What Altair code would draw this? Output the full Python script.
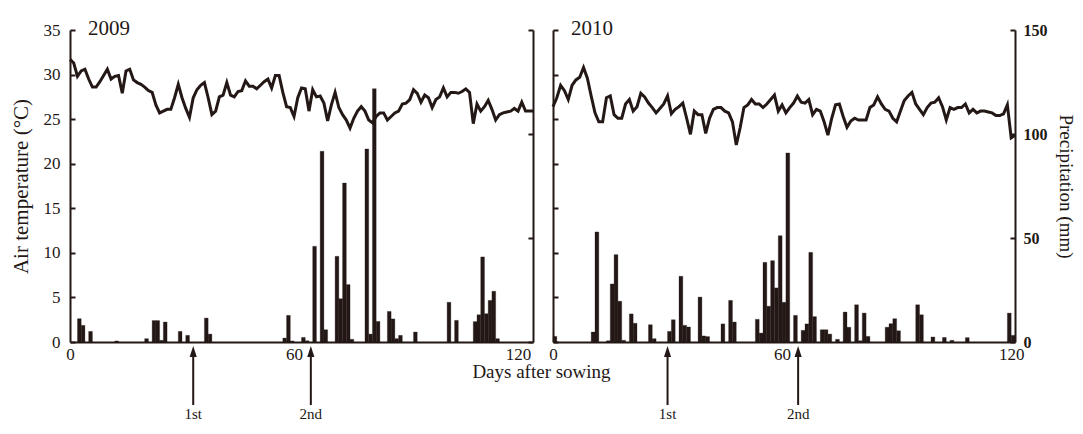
import altair as alt
import pandas as pd

# ---------------- data ----------------
temp_2009 = [
    31.7, 31.3, 29.8, 30.4, 30.6, 29.5, 28.6, 28.6, 29.2, 29.9,
    30.6, 29.5, 29.8, 29.9, 27.9, 30.4, 30.6, 29.4, 29.1, 28.9,
    28.6, 28.2, 28.0, 26.6, 25.7, 25.9, 26.1, 26.1, 27.4, 28.9,
    27.4, 26.2, 25.2, 27.4, 28.3, 28.8, 29.1, 27.4, 25.5, 25.9,
    27.5, 27.7, 29.1, 27.7, 27.5, 28.1, 28.2, 29.3, 28.7, 28.7,
    28.4, 28.8, 29.2, 29.5, 28.5, 29.9, 29.9, 28.0, 26.4, 26.3,
    25.3, 27.4,
    28.5, 28.4, 25.9, 28.3, 27.5, 27.6, 26.8, 24.8, 26.6, 28.0,
    26.3, 25.5, 24.9, 24.0, 25.1, 25.9, 26.4, 25.9, 24.9, 24.6,
    25.3, 25.7, 25.7, 24.9, 25.3, 25.7, 25.9, 26.7, 26.8, 27.2,
    28.3, 27.9, 26.9, 27.7, 27.4, 26.3, 27.2, 27.5, 28.5, 27.5,
    28.0, 28.0, 27.9, 28.1, 28.4, 28.0,
    24.5, 26.7, 25.9, 26.4, 27.1, 26.1, 24.9, 25.5, 25.7, 25.8,
    25.9, 26.2, 25.9, 26.9, 25.9, 25.9, 25.9,
]
temp_2010 = [
    26.4, 27.4, 28.8, 28.2, 27.2, 28.8, 29.4, 29.7, 30.8, 29.6,
    27.6, 25.7, 24.7, 24.7, 27.4, 27.6, 25.5, 25.1, 25.1, 26.7,
    27.2, 25.9, 26.4, 27.9, 27.5, 26.8, 26.3, 25.7, 26.2, 26.7,
    27.6, 25.6, 26.1, 26.4, 26.8, 25.1, 23.3, 25.9, 25.5, 25.5,
    23.4, 25.1, 26.1, 26.3, 26.3, 25.9, 25.7, 24.7, 22.1, 24.0,
    26.3, 26.6, 27.2, 26.7, 26.7, 26.3, 26.7, 27.2, 27.7, 25.9,
    26.6, 25.7, 26.3, 26.8, 27.6, 26.9, 26.8, 27.2, 25.5, 26.1,
    25.9, 24.7, 23.2, 25.1, 26.6,
    26.7, 25.3, 24.1, 24.8, 25.1, 24.9, 24.9, 24.9, 26.3, 26.6,
    27.5, 26.7, 26.1, 25.9, 25.1, 24.7, 25.9, 27.1, 27.6, 28.0,
    26.7, 26.1, 25.5, 26.3, 26.8, 26.9, 27.4, 26.4, 24.9, 26.3,
    26.1, 26.3, 26.3, 26.7, 25.7, 26.1, 25.7, 25.9, 25.9, 25.8,
    25.7, 25.4, 25.4, 25.6, 26.6, 22.9, 23.2,
]
rain_2009_day = [2, 3, 5, 12, 20, 22, 23, 24, 25, 29, 31, 36, 37, 57, 58, 59, 62, 63, 65, 67,
                 68, 71, 72, 73, 74, 75, 79, 80, 81, 82, 85, 86, 87, 88, 92, 101, 103, 108, 109, 110,
                 111, 112, 113, 114]
rain_2009_mm = [11.2, 8.0, 5.1, 0.5, 1.6, 10.3, 10.3, 0.8, 9.6, 5.1, 3.2, 11.5, 3.8, 1.9, 12.8, 0.5, 2.2, 0.6, 46.0, 91.7,
                5.9, 41.2, 20.8, 76.4, 27.6, 1.3, 92.8, 3.8, 121.8, 9.9, 14.7, 11.1, 1.6, 3.2, 4.8, 19.1, 10.4, 9.8, 13.1, 40.9,
                13.6, 20.0, 24.4, 1.6]
rain_2010_day = [0, 10, 11, 14, 15, 16, 17, 18, 20, 21, 25, 26, 30, 31, 33, 34, 35, 38, 39, 40,
                 44, 46, 47, 53, 54, 55, 56, 57, 58, 59, 60, 61, 63, 65, 66, 67, 68, 70, 71, 72,
                 74, 76, 77, 79, 80, 81, 82, 87, 88, 89, 90, 95, 96, 99, 102, 104, 108, 119, 120]
rain_2010_mm = [2.7, 4.8, 52.9, 0.6, 27.9, 42.0, 19.6, 0.8, 13.5, 9.0, 8.3, 1.6, 5.1, 10.7, 31.6, 8.0, 7.2, 21.6, 2.9, 2.6,
                8.7, 20.0, 9.6, 10.9, 4.3, 38.3, 17.2, 39.1, 26.0, 51.1, 19.1, 90.9, 12.8, 5.6, 8.7, 43.1, 12.2, 5.9, 5.9, 3.8,
                1.3, 14.4, 7.1, 17.9, 0.6, 13.9, 2.7, 7.1, 8.8, 11.2, 5.4, 17.9, 13.1, 2.4, 2.2, 0.8, 2.1, 13.9, 3.2]
sowing_2009 = [33, 64.5]
sowing_2010 = [30, 64.2]
arrow_labels = ["1st", "2nd"]
x_ticks = [0, 60, 120]
temp_ticks = [0, 5, 10, 15, 20, 25, 30, 35]
rain_ticks = [0, 50, 100, 150]

# ---------------- styling ----------------
INK = "#231815"
FONT = "Liberation Serif"
H = 312


def make_panel(year, temps, rday, rmm, sow, xmax, width, first):
    tdf = pd.DataFrame({"day": list(range(len(temps))), "temp": temps})
    rdf = pd.DataFrame({"day": rday, "day_end": [d + 1 for d in rday], "mm": rmm,
                        "base": [0] * len(rday)})
    adf = pd.DataFrame({"day": sow, "label": arrow_labels})
    ydf = pd.DataFrame({"year": [year]})

    xs = alt.Scale(domain=[0, xmax], nice=False, zero=False)
    xkw = dict(values=x_ticks, ticks=False, grid=False, domainColor=INK, domainWidth=2,
               labelFont=FONT, labelFontSize=17, labelColor=INK, labelPadding=4, labelFlush=False)
    if first:
        xa = alt.Axis(title="Days after sowing", titleX=471, titleY=35, titleAlign="center",
                      titleBaseline="alphabetic", titleFont=FONT, titleFontSize=19,
                      titleFontWeight="normal", titleColor=INK, **xkw)
    else:
        xa = alt.Axis(title=None, **xkw)
    X = alt.X("day:Q", scale=xs, axis=xa)

    tscale = alt.Scale(domain=[0, 35], nice=False, zero=True)
    rscale = alt.Scale(domain=[0, 150], nice=False, zero=True)

    if first:
        taxis = alt.Axis(orient="left", values=temp_ticks, domain=True, domainColor=INK, domainWidth=2,
                         ticks=False, grid=False, labelFont=FONT, labelFontSize=17, labelColor=INK,
                         labelPadding=10, title="Air temperature (°C)", titleFont=FONT, titleFontSize=21,
                         titleFontWeight="normal", titleColor=INK, titlePadding=12)
        raxis = alt.Axis(orient="right", values=rain_ticks, domain=True, domainColor=INK, domainWidth=2,
                         ticks=False, grid=False, labels=False, title=None)
    else:
        taxis = alt.Axis(orient="left", values=temp_ticks, domain=True, domainColor=INK, domainWidth=2,
                         ticks=False, grid=False, labels=False, title=None)
        raxis = alt.Axis(orient="right", values=rain_ticks, domain=True, domainColor=INK, domainWidth=2,
                         ticks=False, grid=False, labelFont=FONT, labelFontSize=16, labelFontWeight="bold",
                         labelColor=INK, labelPadding=8, title="Precipitation (mm)", titleFont=FONT,
                         titleFontSize=19, titleFontWeight="normal", titleColor=INK, titlePadding=8)

    bars = alt.Chart(rdf).mark_rect(color=INK, stroke=INK, strokeWidth=0.3).encode(
        x=X, x2="day_end:Q",
        y=alt.Y("mm:Q", scale=rscale, axis=raxis), y2="base:Q")

    line = alt.Chart(tdf).mark_line(color=INK, strokeWidth=3).encode(
        x=X, y=alt.Y("temp:Q", scale=tscale, axis=taxis))

    tticks = alt.Chart(tdf).mark_point(opacity=0, size=0).encode(
        x=X, y=alt.Y("temp:Q", scale=alt.Scale(domain=[0, 35], nice=False, zero=True),
                     axis=alt.Axis(orient="left", offset=-5, values=temp_ticks, domain=False,
                                   labels=False, ticks=True, tickSize=5, tickWidth=2, tickColor=INK,
                                   title=None, grid=False)))
    rticks = alt.Chart(rdf).mark_point(opacity=0, size=0).encode(
        x=X, y=alt.Y("mm:Q", scale=alt.Scale(domain=[0, 150], nice=False, zero=True),
                     axis=alt.Axis(orient="right", offset=-5, values=rain_ticks, domain=False,
                                   labels=False, ticks=True, tickSize=5, tickWidth=2, tickColor=INK,
                                   title=None, grid=False)))

    shaft = alt.Chart(adf).mark_rule(color=INK, strokeWidth=2).encode(
        x=X, y=alt.value(324), y2=alt.value(375))
    head = alt.Chart(adf).mark_point(shape="M0,-1L0.65,1L-0.65,1Z", filled=True, color=INK,
                                     opacity=1, size=121).encode(x=X, y=alt.value(321.5))
    lab = alt.Chart(adf).mark_text(font=FONT, fontSize=15, color=INK, baseline="alphabetic").encode(
        x=X, y=alt.value(389), text="label:N")
    ytxt = alt.Chart(ydf).mark_text(font=FONT, fontSize=21, color=INK, baseline="alphabetic",
                                    align="left").encode(
        x=alt.value(18), y=alt.value(5), text="year:N")

    return alt.layer(bars, line, tticks, rticks, shaft, head, lab, ytxt).resolve_scale(
        y="independent").properties(width=width, height=H)


p1 = make_panel("2009", temp_2009, rain_2009_day, rain_2009_mm, sowing_2009, 124, 463, True)
p2 = make_panel("2010", temp_2010, rain_2010_day, rain_2010_mm, sowing_2010, 121, 462, False)

chart = alt.hconcat(p1, p2, spacing=20, bounds="flush").configure_view(stroke=None).properties(
    padding={"left": 2, "top": 10, "right": 0, "bottom": 0})

chart.save("out.html", embed_options={"renderer": "svg", "actions": False})
